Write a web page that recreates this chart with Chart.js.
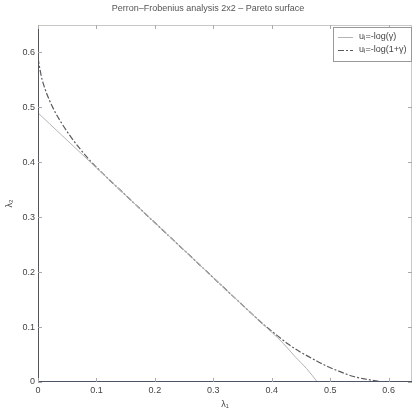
<!DOCTYPE html>
<html><head><meta charset="utf-8">
<script src="https://cdn.jsdelivr.net/npm/chart.js@4/dist/chart.umd.min.js"></script>
<style>html,body{margin:0;padding:0;background:#fff}#wrap{width:416px;height:415px}</style>
</head><body><div id="wrap"><canvas id="c" width="416" height="415"></canvas></div>
<script>
const titleText = "Perron\u2013Frobenius analysis 2x2 \u2013 Pareto surface";
const seriesNames = ["u\u1d62=-log(\u03b3)", "u\u1d62=-log(1+\u03b3)"];
const xTicks = [0, 0.1, 0.2, 0.3, 0.4, 0.5, 0.6];
const yTicks = [0, 0.1, 0.2, 0.3, 0.4, 0.5, 0.6];
const xTitle = "\u03bb\u2081";
const yTitle = "\u03bb\u2082";
// series 1: u_i = -log(gamma)
const s1x = [0, 0.02, 0.04, 0.06, 0.1, 0.2, 0.3, 0.38, 0.42, 0.44, 0.46, 0.478];
const s1y = [0.49, 0.47, 0.45, 0.43, 0.39, 0.29, 0.19, 0.11, 0.07, 0.046, 0.024, 0.0];
// series 2: u_i = -log(1+gamma)
const s2x = [0, 0.005, 0.01, 0.02, 0.03, 0.04, 0.055, 0.07, 0.085, 0.1, 0.15, 0.2, 0.25, 0.3, 0.35, 0.39, 0.41, 0.428, 0.45, 0.474, 0.492, 0.514, 0.54, 0.562, 0.585, 0.6];
const s2y = [0.59, 0.56, 0.54, 0.512, 0.49, 0.472, 0.448, 0.427, 0.408, 0.391, 0.34, 0.29, 0.24, 0.19, 0.14, 0.101, 0.084, 0.069, 0.054, 0.04, 0.03, 0.02, 0.01, 0.005, 0.001, 0.0];

const pts = (xs, ys) => xs.map((x, i) => ({x: x, y: ys[i]}));
const FONT = "'Liberation Sans', Arial, sans-serif";

const decor = {
  id: 'decor',
  afterDraw(chart) {
    const ctx = chart.ctx, a = chart.chartArea;
    const xs = chart.scales.x, ys = chart.scales.y;
    ctx.save();
    ctx.lineWidth = 1;
    ctx.strokeStyle = '#c8c8c8';
    ctx.beginPath();
    ctx.moveTo(a.left, a.top + 0.5); ctx.lineTo(a.right, a.top + 0.5);
    ctx.moveTo(a.right - 0.5, a.top); ctx.lineTo(a.right - 0.5, a.bottom);
    ctx.stroke();
    ctx.strokeStyle = '#4e5566';
    ctx.beginPath();
    ctx.moveTo(a.left + 0.5, a.top); ctx.lineTo(a.left + 0.5, a.bottom);
    ctx.moveTo(a.left, a.bottom - 0.5); ctx.lineTo(a.right, a.bottom - 0.5);
    ctx.stroke();
    ctx.strokeStyle = '#aaaaaa';
    ctx.beginPath();
    xTicks.forEach(v => {
      const p = Math.round(xs.getPixelForValue(v)) + 0.5;
      ctx.moveTo(p, a.bottom); ctx.lineTo(p, a.bottom - 4);
      ctx.moveTo(p, a.top); ctx.lineTo(p, a.top + 4);
    });
    yTicks.forEach(v => {
      const p = Math.round(ys.getPixelForValue(v)) + 0.5;
      ctx.moveTo(a.left, p); ctx.lineTo(a.left + 4, p);
      ctx.moveTo(a.right, p); ctx.lineTo(a.right - 4, p);
    });
    ctx.stroke();
    ctx.fillStyle = '#555';
    ctx.font = '9px ' + FONT;
    ctx.textAlign = 'center';
    ctx.textBaseline = 'middle';
    ctx.fillText(titleText, 208, 9);
    const lx = 333, ly = 27, lw = 79, lh = 35;
    ctx.fillStyle = '#fff';
    ctx.fillRect(lx, ly, lw, lh);
    ctx.strokeStyle = '#999';
    ctx.strokeRect(lx + 0.5, ly + 0.5, lw - 1, lh - 1);
    chart.data.datasets.forEach((ds, i) => {
      const yy = ly + 10 + i * 13;
      ctx.strokeStyle = ds.borderColor;
      ctx.lineWidth = 1;
      ctx.setLineDash(ds.borderDash || []);
      ctx.beginPath(); ctx.moveTo(lx + 5, yy + 0.5); ctx.lineTo(lx + 20, yy + 0.5); ctx.stroke();
      ctx.setLineDash([]);
      ctx.fillStyle = '#444';
      ctx.textAlign = 'left';
      ctx.font = '9px ' + FONT;
      ctx.fillText(ds.label, lx + 26, yy);
    });
    ctx.restore();
  }
};

new Chart(document.getElementById('c'), {
  type: 'scatter',
  data: {
    datasets: [
      { label: seriesNames[0], data: pts(s1x, s1y), showLine: true, borderColor: '#b4b4b4', borderWidth: 1, pointRadius: 0, cubicInterpolationMode: 'monotone', fill: false },
      { label: seriesNames[1], data: pts(s2x, s2y), showLine: true, borderColor: '#5a5a5a', borderWidth: 1.2, borderDash: [6, 2, 2, 2], pointRadius: 0, cubicInterpolationMode: 'monotone', fill: false }
    ]
  },
  options: {
    responsive: false,
    animation: false,
    layout: { padding: { top: 25, right: 4, left: 0, bottom: 0 } },
    plugins: { legend: { display: false }, title: { display: false }, tooltip: { enabled: false } },
    scales: {
      x: {
        type: 'linear', min: 0, max: 0.64,
        afterFit: s => { s.height = 33; },
        afterBuildTicks: s => { s.ticks = xTicks.map(v => ({value: v})); },
        grid: { display: false, drawTicks: false },
        border: { display: false },
        ticks: { padding: 3, color: '#444', font: { family: FONT, size: 9 }, maxRotation: 0, callback: v => String(v) },
        title: { display: true, text: xTitle, color: '#444', font: { family: FONT, size: 9 }, padding: { top: 0, bottom: 5 } }
      },
      y: {
        type: 'linear', min: 0, max: 0.65,
        afterFit: s => { s.width = 38; },
        afterBuildTicks: s => { s.ticks = yTicks.map(v => ({value: v})); },
        grid: { display: false, drawTicks: false },
        border: { display: false },
        ticks: { padding: 3, color: '#444', font: { family: FONT, size: 9 }, callback: v => String(v) },
        title: { display: true, text: yTitle, color: '#444', font: { family: FONT, size: 9 }, padding: { top: 4, bottom: 0 } }
      }
    }
  },
  plugins: [decor]
});
</script>
</body></html>
